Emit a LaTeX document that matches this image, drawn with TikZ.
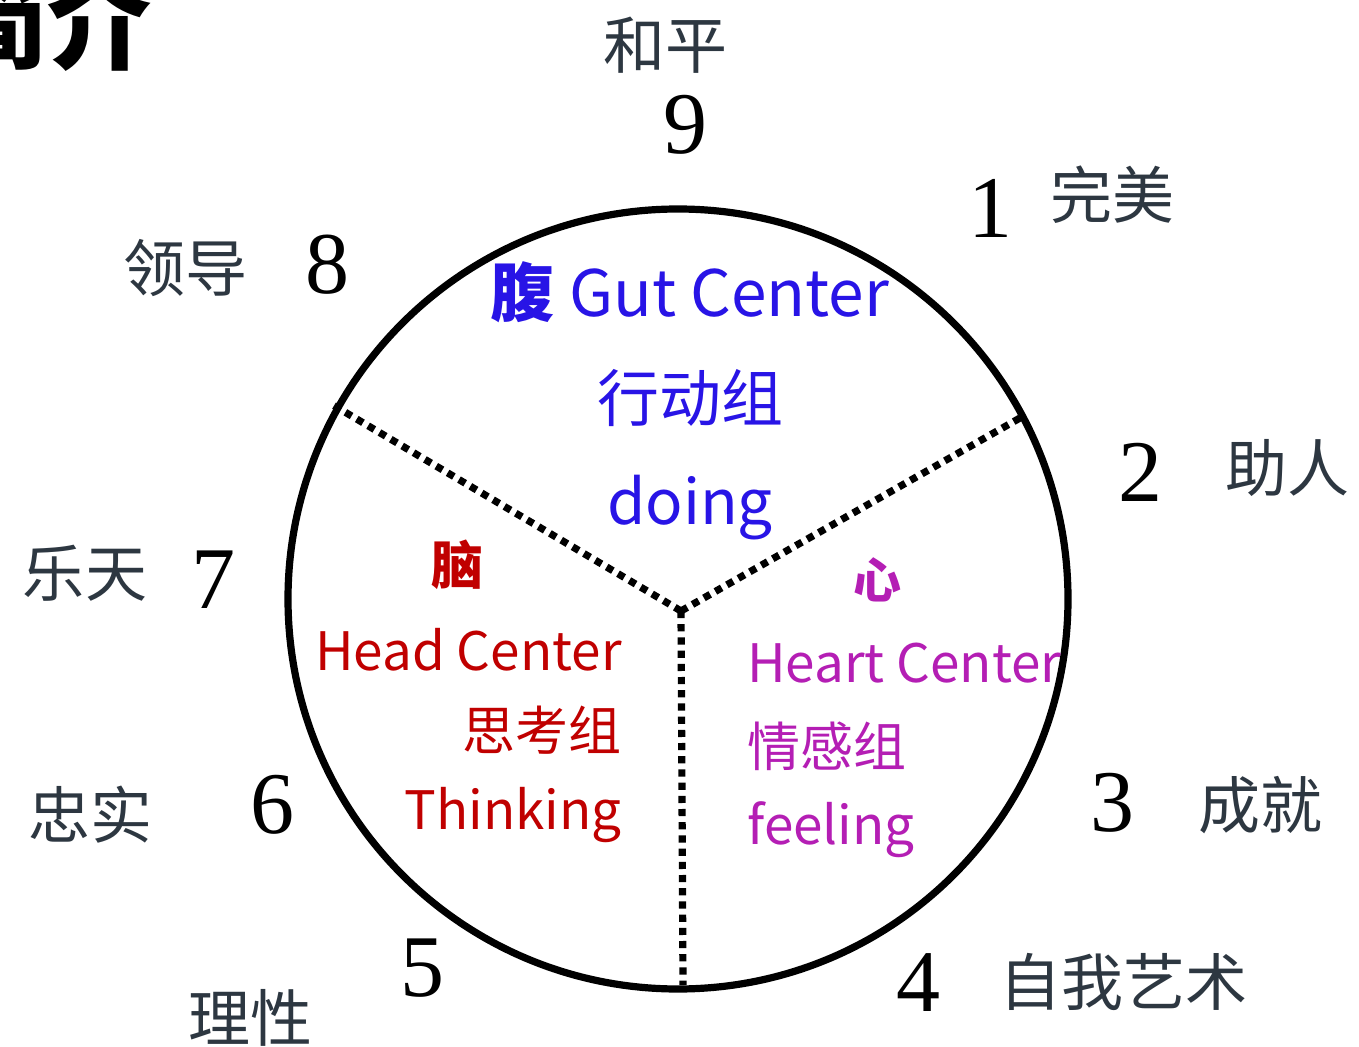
\documentclass[tikz,border=0pt]{standalone}
\usepackage{fontspec}
\setmainfont{Liberation Serif}
\newfontfamily\cjk{Noto Sans CJK SC}
\definecolor{gutc}{RGB}{40,20,230}
\definecolor{headc}{RGB}{192,0,0}
\definecolor{heartc}{RGB}{180,30,180}
\definecolor{labc}{RGB}{45,55,65}
\tikzset{
  num/.style={inner sep=0pt, font=\fontsize{44}{50}\selectfont, text=black},
  lab/.style={inner sep=0pt, font=\cjk\fontsize{31}{36}\selectfont, text=labc},
  gut/.style={inner sep=0pt, text=gutc},
  head/.style={inner sep=0pt, text=headc},
  heart/.style={inner sep=0pt, text=heartc},
  sidetext/.style={font=\cjk\fontsize{26.5}{30}\selectfont},
  divider/.style={line width=3.6pt, dash pattern=on 3.6pt off 3pt},
}
\begin{document}
\begin{tikzpicture}[x=0.5pt,y=-0.5pt]
\useasboundingbox (0,0) rectangle (1359,1047);
% title (partly cut off)
\node[inner sep=0pt, anchor=base east, font=\cjk\bfseries\fontsize{52}{56}\selectfont] (title) at (152,62) {简介};
% ring
\node[draw, circle, line width=3.6pt, minimum size=390pt, inner sep=0pt] (ring) at (678,599) {};
\coordinate (c) at (681,611);
\coordinate (ul) at (333,405);
\coordinate (ur) at (1020,418);
\coordinate (dn) at (683,985);
\draw[divider] (c) -- (ul);
\draw[divider] (c) -- (ur);
\draw[divider] (c) -- (dn);
% gut
\node[gut, font=\cjk\fontsize{32}{38}\selectfont] (gut1) at (690,292) {{\bfseries 腹} Gut Center};
\node[gut, font=\cjk\fontsize{31}{36}\selectfont] (gut2) at (690,398) {行动组};
\node[gut, font=\cjk\fontsize{31}{36}\selectfont] (gut3) at (690,508) {doing};
% head
\node[head, font=\cjk\bfseries\fontsize{26}{30}\selectfont] (head0) at (457,565) {脑};
\node[head, sidetext, anchor=east] (head1) at (622,650) {Head Center};
\node[head, sidetext, anchor=east] (head2) at (622,730) {思考组};
\node[head, sidetext, anchor=east] (head3) at (622,815) {Thinking};
% heart
\node[heart, font=\cjk\bfseries\fontsize{24}{28}\selectfont] (heart0) at (877,580) {心};
\node[heart, sidetext, anchor=west] (heart1) at (747,663) {Heart Center};
\node[heart, sidetext, anchor=west] (heart2) at (747,746) {情感组};
\node[heart, sidetext, anchor=west] (heart3) at (747,830) {feeling};
% numbers
\node[num] (n9) at (685,125) {9};
\node[num] (n1) at (990,208) {1};
\node[num] (n2) at (1140,472) {2};
\node[num] (n3) at (1112,803) {3};
\node[num] (n4) at (918,983) {4};
\node[num] (n5) at (422,968) {5};
\node[num] (n6) at (272,805) {6};
\node[num] (n7) at (213,580) {7};
\node[num] (n8) at (327,265) {8};
% labels
\node[lab] (l9) at (665,45) {和平};
\node[lab] (l1) at (1112,195) {完美};
\node[lab] (l2) at (1287,468) {助人};
\node[lab] (l3) at (1260,805) {成就};
\node[lab] (l4) at (1123,982) {自我艺术};
\node[lab] (l5) at (250,1018) {理性};
\node[lab] (l6) at (90,815) {忠实};
\node[lab] (l7) at (85,573) {乐天};
\node[lab] (l8) at (185,268) {领导};
\end{tikzpicture}
\end{document}
